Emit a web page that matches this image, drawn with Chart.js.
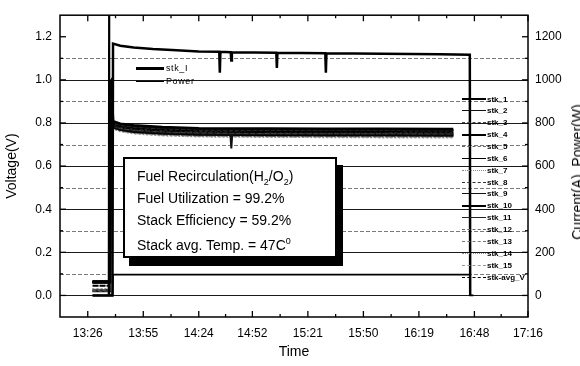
<!DOCTYPE html>
<html>
<head>
<meta charset="utf-8">
<script src="https://cdn.jsdelivr.net/npm/chart.js@4.4.0/dist/chart.umd.min.js"></script>
<style>
  html, body { margin: 0; padding: 0; background: #fff; overflow: hidden; }
  #wrap { position: relative; width: 580px; height: 366px; font-family: Arial, "Liberation Sans", sans-serif; color: #000; }
  #grafico { position: absolute; left: 0; top: 0; }
  .caixa { position: absolute; left: 123px; top: 157px; width: 210px; height: 97px; border: 2px solid #000; background: #fff; box-shadow: 6px 8px 0 #000; }
  .caixa div { position: absolute; left: 12px; font-size: 14px; line-height: 16px; white-space: nowrap; }
  .caixa sub, .caixa sup { font-size: 9px; line-height: 0; }
  .leg { position: absolute; display: flex; align-items: center; white-space: nowrap; }
  .leg span.linha { display: inline-block; height: 0; }
  .tituloDir { position: absolute; left: 577px; top: 172px; transform: translate(-50%, -50%) rotate(-90deg); font-size: 14px; white-space: nowrap; }
</style>
</head>
<body>
<div id="wrap">
  <canvas id="grafico" width="580" height="366"></canvas>
  <div id="legendaTopo"></div>
  <div id="legendaCelulas"></div>
  <div class="caixa">
    <div style="top:9px">Fuel Recirculation(H<sub>2</sub>/O<sub>2</sub>)</div>
    <div style="top:31px">Fuel Utilization = 99.2%</div>
    <div style="top:53px">Stack Efficiency = 59.2%</div>
    <div style="top:78px">Stack avg. Temp. = 47C<sup>0</sup></div>
  </div>
  <div class="tituloDir">Current(A), Power(W)</div>
</div>
<script>
// eixo X: rótulos de hora
const horas = ['13:26', '13:55', '14:24', '14:52', '15:21', '15:50', '16:19', '16:48', '17:16'];
const minutosTick = horas.map(h => { const [hh, mm] = h.split(':'); return +hh * 60 + +mm; });
const voltTicks = [0, 0.2, 0.4, 0.6, 0.8, 1.0, 1.2];
const potTicks = [0, 200, 400, 600, 800, 1000, 1200];

// tensões das células (V), tempo em minutos do dia
const cellTime = [808.5, 817.6, 817.9, 818.6, 819.2, 823, 830, 845, 864, 880.5, 881, 881.5, 900, 930, 960, 997];
const celulas = ['stk_1', 'stk_2', 'stk_3', 'stk_4', 'stk_5', 'stk_6', 'stk_7', 'stk_8', 'stk_9', 'stk_10', 'stk_11', 'stk_12', 'stk_13', 'stk_14', 'stk_15', 'stk-avg_V'];
const stk1  = [0.065, 0.065, 0.99, 1.00, 0.808, 0.797, 0.789, 0.781, 0.776, 0.775, 0.775, 0.775, 0.774, 0.773, 0.773, 0.772];
const stk2  = [0.060, 0.060, 0.98, 0.99, 0.803, 0.793, 0.785, 0.777, 0.772, 0.771, 0.771, 0.771, 0.770, 0.769, 0.769, 0.768];
const stk3  = [0.020, 0.020, 0.97, 0.99, 0.800, 0.790, 0.782, 0.774, 0.769, 0.768, 0.768, 0.768, 0.767, 0.766, 0.766, 0.765];
const stk4  = [0.065, 0.065, 0.99, 1.00, 0.797, 0.787, 0.779, 0.771, 0.766, 0.765, 0.765, 0.765, 0.764, 0.763, 0.763, 0.762];
const stk5  = [0.025, 0.025, 0.98, 0.99, 0.794, 0.784, 0.776, 0.768, 0.763, 0.762, 0.762, 0.762, 0.761, 0.760, 0.760, 0.759];
const stk6  = [0.060, 0.060, 0.99, 1.00, 0.791, 0.781, 0.773, 0.765, 0.760, 0.759, 0.759, 0.759, 0.758, 0.757, 0.757, 0.756];
const stk7  = [0.030, 0.030, 0.97, 0.98, 0.788, 0.778, 0.770, 0.762, 0.757, 0.756, 0.756, 0.756, 0.755, 0.754, 0.754, 0.753];
const stk8  = [0.065, 0.065, 0.98, 0.99, 0.786, 0.775, 0.767, 0.759, 0.754, 0.753, 0.753, 0.753, 0.752, 0.751, 0.751, 0.750];
const stk9  = [0.020, 0.020, 0.99, 1.00, 0.784, 0.773, 0.764, 0.756, 0.751, 0.750, 0.682, 0.750, 0.749, 0.748, 0.748, 0.747];
const stk10 = [0.060, 0.060, 0.98, 0.99, 0.782, 0.770, 0.761, 0.753, 0.748, 0.747, 0.747, 0.747, 0.746, 0.745, 0.745, 0.744];
const stk11 = [0.025, 0.025, 0.97, 0.98, 0.780, 0.768, 0.758, 0.750, 0.745, 0.744, 0.744, 0.744, 0.743, 0.742, 0.742, 0.741];
const stk12 = [0.065, 0.065, 0.99, 1.00, 0.778, 0.766, 0.756, 0.747, 0.742, 0.741, 0.741, 0.741, 0.740, 0.739, 0.739, 0.738];
const stk13 = [0.030, 0.030, 0.98, 0.99, 0.776, 0.764, 0.754, 0.745, 0.740, 0.739, 0.739, 0.739, 0.738, 0.737, 0.736, 0.736];
const stk14 = [0.060, 0.060, 0.97, 0.98, 0.774, 0.762, 0.752, 0.743, 0.738, 0.737, 0.737, 0.737, 0.736, 0.735, 0.734, 0.734];
const stk15 = [0.020, 0.020, 0.98, 0.99, 0.772, 0.760, 0.750, 0.741, 0.736, 0.735, 0.735, 0.735, 0.734, 0.733, 0.732, 0.732];
const stkAvg = [0.045, 0.045, 0.98, 0.99, 0.788, 0.777, 0.768, 0.760, 0.755, 0.754, 0.750, 0.754, 0.753, 0.752, 0.751, 0.751];
const tensoes = [stk1, stk2, stk3, stk4, stk5, stk6, stk7, stk8, stk9, stk10, stk11, stk12, stk13, stk14, stk15, stkAvg];

// potência (W)
const powerTime = [808.5, 818.9, 819.2, 823, 830, 840, 850, 864, 874.7, 875, 875.3, 880.7, 881, 881.3, 904.5, 904.8, 905.1, 930.1, 930.4, 930.7, 960, 990, 1005.6, 1005.8];
const powerW = [0, 0, 1168, 1158, 1150, 1143, 1138, 1132, 1130, 1033, 1130, 1128, 1090, 1128, 1126, 1055, 1126, 1124, 1033, 1124, 1121, 1119, 1117, 0];

// corrente (A)
const currentTime = [808.5, 816.9, 817.1, 817.3, 819.0, 819.2, 860, 930, 1005.6, 1005.8, 1007.5];
const currentA = [0, 0, 1400, 0, 0, 97, 97, 97, 97, 0, 0];

// estilos das linhas das células
const estilos = [
  { cor: '#000', larg: 2.5, traco: [] },
  { cor: '#111', larg: 2, traco: [] },
  { cor: '#444', larg: 1.5, traco: [4, 2] },
  { cor: '#000', larg: 2.5, traco: [] },
  { cor: '#666', larg: 1.5, traco: [3, 2] },
  { cor: '#000', larg: 2, traco: [] },
  { cor: '#888', larg: 1.5, traco: [1, 2] },
  { cor: '#333', larg: 1.5, traco: [5, 2] },
  { cor: '#111', larg: 2, traco: [] },
  { cor: '#000', larg: 2.5, traco: [] },
  { cor: '#222', larg: 2, traco: [] },
  { cor: '#666', larg: 1.5, traco: [4, 2] },
  { cor: '#777', larg: 1.5, traco: [2, 2] },
  { cor: '#888', larg: 1.5, traco: [1, 2] },
  { cor: '#999', larg: 1.5, traco: [2, 2] },
  { cor: '#000', larg: 2, traco: [6, 1] }
];

Chart.defaults.font.family = 'Arial, "Liberation Sans", sans-serif';
Chart.defaults.color = '#000';

const datasets = [];
datasets.push({
  label: 'Power', yAxisID: 'y1',
  data: powerTime.map((t, i) => ({ x: t, y: powerW[i] })),
  borderColor: '#000', borderWidth: 2.5
});
datasets.push({
  label: 'stk_I', yAxisID: 'y1',
  data: currentTime.map((t, i) => ({ x: t, y: currentA[i] })),
  borderColor: '#000', borderWidth: 1.8
});
celulas.forEach((nome, k) => {
  datasets.push({
    label: nome, yAxisID: 'y',
    data: cellTime.map((t, i) => ({ x: t, y: tensoes[k][i] })),
    borderColor: estilos[k].cor, borderWidth: estilos[k].larg, borderDash: estilos[k].traco
  });
});

// grade, moldura e marcas dos eixos
const moldura = {
  id: 'moldura',
  beforeDatasetsDraw(chart) {
    const { ctx, chartArea: a, scales: { y } } = chart;
    ctx.save();
    ctx.lineWidth = 1;
    for (let i = 0; i <= 11; i++) {
      const py = Math.round(y.getPixelForValue(i / 10)) + 0.5;
      if (i % 2 === 0) { ctx.strokeStyle = '#1a1a1a'; ctx.setLineDash([]); }
      else { ctx.strokeStyle = '#7a7a7a'; ctx.setLineDash([4, 2]); }
      ctx.beginPath();
      ctx.moveTo(a.left, py);
      ctx.lineTo(a.right, py);
      ctx.stroke();
    }
    ctx.restore();
  },
  afterDatasetsDraw(chart) {
    const { ctx, chartArea: a, scales: { x, y } } = chart;
    const risco = (x1, y1, x2, y2) => { ctx.beginPath(); ctx.moveTo(x1, y1); ctx.lineTo(x2, y2); ctx.stroke(); };
    ctx.save();
    ctx.strokeStyle = '#000';
    ctx.lineWidth = 1.5;
    ctx.strokeRect(a.left, a.top, a.right - a.left, a.bottom - a.top);
    ctx.lineWidth = 1.3;
    minutosTick.forEach((m, i) => {
      const px = x.getPixelForValue(m);
      risco(px, a.bottom, px, a.bottom - 6);
      risco(px, a.top, px, a.top + 6);
      if (i > 0) {
        const pm = x.getPixelForValue((m + minutosTick[i - 1]) / 2);
        risco(pm, a.bottom, pm, a.bottom - 3);
        risco(pm, a.top, pm, a.top + 3);
      }
    });
    for (let i = 0; i <= 12; i++) {
      const py = y.getPixelForValue(i / 10);
      const len = i % 2 === 0 ? 6 : 3;
      risco(a.left, py, a.left + len, py);
      risco(a.right, py, a.right - len, py);
    }
    ctx.restore();
  }
};

new Chart(document.getElementById('grafico'), {
  type: 'line',
  data: { datasets },
  options: {
    responsive: false,
    animation: false,
    layout: { padding: { top: 5 } },
    elements: { point: { radius: 0 }, line: { tension: 0 } },
    plugins: { legend: { display: false }, tooltip: { enabled: false } },
    scales: {
      x: {
        type: 'linear', min: 791.5, max: 1036,
        grid: { display: false, drawTicks: false }, border: { display: false },
        afterBuildTicks: s => { s.ticks = minutosTick.map(v => ({ value: v })); },
        ticks: { autoSkip: false, maxRotation: 0, padding: 9, font: { size: 12 }, callback: (v, i) => horas[i] },
        title: { display: true, text: 'Time', font: { size: 14 }, padding: { top: 0, bottom: 5 } },
        afterFit: s => { s.height = 49; }
      },
      y: {
        position: 'left', min: -0.1, max: 1.3,
        grid: { display: false, drawTicks: false }, border: { display: false },
        afterBuildTicks: s => { s.ticks = voltTicks.map(v => ({ value: v })); },
        ticks: { padding: 8, font: { size: 12 }, callback: v => v.toFixed(1) },
        title: { display: true, text: 'Voltage(V)', font: { size: 14 }, padding: { top: 4, bottom: 0 } },
        afterFit: s => { s.width = 60; }
      },
      y1: {
        position: 'right', min: -100, max: 1300,
        grid: { display: false, drawTicks: false }, border: { display: false },
        afterBuildTicks: s => { s.ticks = potTicks.map(v => ({ value: v })); },
        ticks: { padding: 7, font: { size: 12 }, callback: v => String(v) },
        afterFit: s => { s.width = 52; }
      }
    }
  },
  plugins: [moldura]
});

// legenda superior (stk_I / Power)
const legTopo = document.getElementById('legendaTopo');
[{ nome: 'stk_I', larg: 3.5, top: 62 }, { nome: 'Power', larg: 1.5, top: 75 }].forEach(item => {
  const el = document.createElement('div');
  el.className = 'leg';
  el.style.left = '136px';
  el.style.top = item.top + 'px';
  el.style.height = '12px';
  el.style.fontSize = '9px';
  el.style.letterSpacing = '0.6px';
  el.innerHTML = '<span class="linha" style="width:28px;border-top:' + item.larg + 'px solid #000"></span><span style="margin-left:2px">' + item.nome + '</span>';
  legTopo.appendChild(el);
});

// legenda das células, lado direito
const legCel = document.getElementById('legendaCelulas');
celulas.forEach((nome, k) => {
  const e = estilos[k];
  const tipo = e.traco.length === 0 ? 'solid' : (e.traco[0] <= 1 ? 'dotted' : 'dashed');
  const el = document.createElement('div');
  el.className = 'leg';
  el.style.left = '462px';
  el.style.top = (93 + k * 11.87) + 'px';
  el.style.height = '12px';
  el.style.fontSize = '8px';
  el.style.fontWeight = 'bold';
  el.innerHTML = '<span class="linha" style="width:24px;border-top:' + Math.max(1, e.larg - 0.5) + 'px ' + tipo + ' ' + e.cor + '"></span><span style="margin-left:1px">' + nome + '</span>';
  legCel.appendChild(el);
});
</script>
</body>
</html>
